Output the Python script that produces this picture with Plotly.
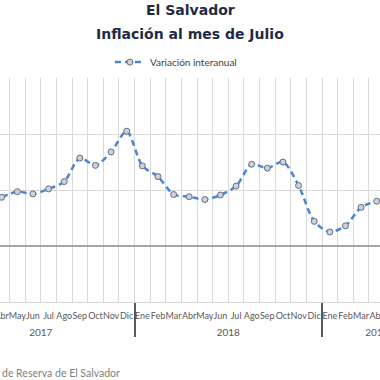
import plotly.graph_objects as go

months = ["Ene", "Feb", "Mar", "Abr", "May", "Jun", "Jul", "Ago", "Sep", "Oct", "Nov", "Dic"]
years = ["2017", "2018", "2019"]
months_per_year = [12, 12, 7]

# Variación interanual (%) — Ene 2017 .. Jul 2019 (off-screen months unknown -> None)
v2017 = [None, None, None, 0.87, 0.97, 0.93, 1.02, 1.15, 1.57, 1.44, 1.68, 2.05]
v2018 = [1.43, 1.24, 0.92, 0.88, 0.83, 0.91, 1.07, 1.46, 1.39, 1.50, 1.08, 0.44]
v2019 = [0.25, 0.36, 0.69, 0.80, None, None, None]

month_labels = []
for n in months_per_year:
    month_labels += months[:n]
values = v2017 + v2018 + v2019
pos = list(range(len(values)))

# year group centres and boundaries (derived from months_per_year)
year_centres, year_bounds = [], []
start = 0
for n in months_per_year:
    year_centres.append(start + (n - 1) / 2)
    start += n
    year_bounds.append(start - 0.5)
year_bounds = year_bounds[:-1]
month_bounds = [p - 0.5 for p in pos] + [pos[-1] + 0.5]

xr = [2.891, 27.21]

fig = go.Figure()
fig.add_trace(go.Scatter(
    x=pos, y=values,
    mode="lines+markers", name="Variación interanual",
    line=dict(color="#4a86d6", width=2.5, dash="6px,4px", shape="spline", smoothing=0.8),
    marker=dict(symbol="circle", size=6, color="#cdd1da", line=dict(color="#5f6e86", width=1)),
))
# invisible trace to activate the year axis
fig.add_trace(go.Scatter(x=[None], y=[None], xaxis="x2", showlegend=False, hoverinfo="skip"))

fig.update_layout(
    width=380, height=380,
    margin=dict(l=0, r=0, t=78, b=78),
    paper_bgcolor="white", plot_bgcolor="white",
    showlegend=True,
    legend=dict(orientation="h", x=0.463, xanchor="center", y=1.071, yanchor="middle",
                font=dict(family="Lato", size=10, color="#404040"), bgcolor="rgba(0,0,0,0)"),
    annotations=[
        dict(text="<b>El Salvador</b>", x=0.5, y=1.3036, xref="paper", yref="paper",
             xanchor="center", yanchor="middle", showarrow=False,
             font=dict(family="DejaVu Sans", size=14, color="#1f2b45")),
        dict(text="<b>Inflación al mes de Julio</b>", x=0.5, y=1.196, xref="paper", yref="paper",
             xanchor="center", yanchor="middle", showarrow=False,
             font=dict(family="DejaVu Sans", size=14, color="#1f2b45")),
        dict(text="de Reserva de El Salvador", x=0.0, y=-0.317, xref="paper", yref="paper",
             xanchor="left", yanchor="middle", showarrow=False,
             font=dict(family="Lato", size=10.5, color="#7f7f7f")),
    ],
    xaxis=dict(
        range=xr, tickmode="array", tickvals=pos, ticktext=month_labels,
        showgrid=False, ticks="", tickangle=0, ticklabelstandoff=5,
        ticklabeloverflow="allow",
        showline=True, linecolor="#d9d9d9", linewidth=1, zeroline=False,
        tickfont=dict(family="Lato", size=9, color="#595959"),
        minor=dict(tickmode="array", tickvals=month_bounds, showgrid=True,
                   gridcolor="#d9d9d9", gridwidth=1, ticks=""),
        automargin=False,
    ),
    xaxis2=dict(
        range=xr, overlaying="x", anchor="y", side="bottom",
        tickmode="array", tickvals=year_centres, ticktext=years,
        showgrid=False, ticks="", tickangle=0, ticklabelstandoff=23,
        ticklabeloverflow="allow",
        showline=False, zeroline=False,
        tickfont=dict(family="Lato", size=10, color="#595959"),
        minor=dict(tickmode="array", tickvals=year_bounds, ticks="outside",
                   ticklen=34, tickwidth=1.5, tickcolor="#595959", showgrid=False),
        automargin=False,
    ),
    yaxis=dict(
        range=[-1, 3], tickvals=[1, 2], showticklabels=False,
        showgrid=True, gridcolor="#d9d9d9", gridwidth=1,
        zeroline=True, zerolinecolor="#a6a6a6", zerolinewidth=2,
        automargin=False,
    ),
)

fig.write_html("out.html", config={"displayModeBar": False},
               post_script="document.body.style.margin='0';")
